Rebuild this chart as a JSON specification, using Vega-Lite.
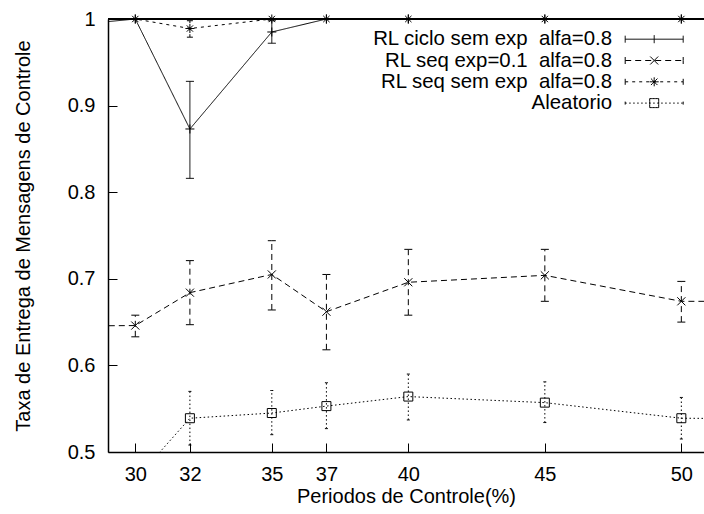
{
  "$schema": "https://vega.github.io/schema/vega-lite/v6.json",
  "width": 596,
  "height": 433,
  "autosize": "none",
  "padding": {"left": 108, "top": 19, "right": 0, "bottom": 62},
  "background": "white",
  "config": {
    "view": {"stroke": null},
    "font": "Liberation Sans",
    "axis": {
      "grid": false,
      "domainColor": "black",
      "domainWidth": 1.5,
      "tickColor": "black",
      "tickSize": -9,
      "tickWidth": 1,
      "labelFont": "Liberation Sans",
      "labelFontSize": 20,
      "labelColor": "black",
      "labelFlush": false,
      "labelOverlap": false,
      "titleFont": "Liberation Sans",
      "titleFontSize": 20,
      "titleFontWeight": "normal",
      "titleColor": "black"
    },
    "axisX": {"labelPadding": 37, "labelBaseline": "alphabetic", "titleY": 50, "titleBaseline": "alphabetic"},
    "axisY": {"labelPadding": 22, "titleX": -85, "titleBaseline": "middle"}
  },
  "data": {
    "values": [
      {"series": "RL ciclo sem exp\u00a0 alfa=0.8", "x": 25, "y": 0.985},
      {"series": "RL ciclo sem exp\u00a0 alfa=0.8", "x": 30, "y": 1.0},
      {"series": "RL ciclo sem exp\u00a0 alfa=0.8", "x": 32, "y": 0.873, "lo": 0.816, "hi": 0.928},
      {"series": "RL ciclo sem exp\u00a0 alfa=0.8", "x": 35, "y": 0.985, "lo": 0.972, "hi": 0.998},
      {"series": "RL ciclo sem exp\u00a0 alfa=0.8", "x": 37, "y": 1.0},
      {"series": "RL ciclo sem exp\u00a0 alfa=0.8", "x": 40, "y": 1.0},
      {"series": "RL ciclo sem exp\u00a0 alfa=0.8", "x": 45, "y": 1.0},
      {"series": "RL ciclo sem exp\u00a0 alfa=0.8", "x": 50, "y": 1.0},
      {"series": "RL ciclo sem exp\u00a0 alfa=0.8", "x": 55, "y": 1.0},
      {"series": "RL seq exp=0.1\u00a0 alfa=0.8", "x": 25, "y": 0.645},
      {"series": "RL seq exp=0.1\u00a0 alfa=0.8", "x": 30, "y": 0.646, "lo": 0.633, "hi": 0.658},
      {"series": "RL seq exp=0.1\u00a0 alfa=0.8", "x": 32, "y": 0.684, "lo": 0.647, "hi": 0.721},
      {"series": "RL seq exp=0.1\u00a0 alfa=0.8", "x": 35, "y": 0.705, "lo": 0.664, "hi": 0.744},
      {"series": "RL seq exp=0.1\u00a0 alfa=0.8", "x": 37, "y": 0.662, "lo": 0.618, "hi": 0.705},
      {"series": "RL seq exp=0.1\u00a0 alfa=0.8", "x": 40, "y": 0.696, "lo": 0.658, "hi": 0.734},
      {"series": "RL seq exp=0.1\u00a0 alfa=0.8", "x": 45, "y": 0.704, "lo": 0.674, "hi": 0.734},
      {"series": "RL seq exp=0.1\u00a0 alfa=0.8", "x": 50, "y": 0.674, "lo": 0.65, "hi": 0.697},
      {"series": "RL seq exp=0.1\u00a0 alfa=0.8", "x": 55, "y": 0.674},
      {"series": "RL seq sem exp\u00a0 alfa=0.8", "x": 25, "y": 1.0},
      {"series": "RL seq sem exp\u00a0 alfa=0.8", "x": 30, "y": 1.0},
      {"series": "RL seq sem exp\u00a0 alfa=0.8", "x": 32, "y": 0.989, "lo": 0.979, "hi": 0.998},
      {"series": "RL seq sem exp\u00a0 alfa=0.8", "x": 35, "y": 1.0},
      {"series": "RL seq sem exp\u00a0 alfa=0.8", "x": 37, "y": 1.0},
      {"series": "RL seq sem exp\u00a0 alfa=0.8", "x": 40, "y": 1.0},
      {"series": "RL seq sem exp\u00a0 alfa=0.8", "x": 45, "y": 1.0},
      {"series": "RL seq sem exp\u00a0 alfa=0.8", "x": 50, "y": 1.0},
      {"series": "RL seq sem exp\u00a0 alfa=0.8", "x": 55, "y": 1.0},
      {"series": "Aleatorio", "x": 30, "y": 0.468},
      {"series": "Aleatorio", "x": 32, "y": 0.539, "lo": 0.508, "hi": 0.57},
      {"series": "Aleatorio", "x": 35, "y": 0.545, "lo": 0.52, "hi": 0.571},
      {"series": "Aleatorio", "x": 37, "y": 0.553, "lo": 0.527, "hi": 0.58},
      {"series": "Aleatorio", "x": 40, "y": 0.564, "lo": 0.537, "hi": 0.59},
      {"series": "Aleatorio", "x": 45, "y": 0.557, "lo": 0.534, "hi": 0.581},
      {"series": "Aleatorio", "x": 50, "y": 0.539, "lo": 0.515, "hi": 0.563},
      {"series": "Aleatorio", "x": 55, "y": 0.538}
    ]
  },
  "layer": [
    {
      "mark": {"type": "rule", "color": "black", "strokeWidth": 1.5},
      "encoding": {
        "y": {"datum": 1, "type": "quantitative", "title": "Taxa de Entrega de Mensagens de Controle", "scale": {"domain": [0.5, 1], "nice": false, "zero": false}, "axis": {"values": [0.5, 0.6, 0.7, 0.8, 0.9, 1], "format": "~g"}}
      }
    },
    {
      "mark": {"type": "line", "clip": true, "color": "black", "strokeWidth": 1},
      "encoding": {
        "x": {"field": "x", "type": "quantitative", "title": "Periodos de Controle(%)", "scale": {"domain": [29, 50.83], "nice": false, "zero": false}, "axis": {"values": [30, 32, 35, 37, 40, 45, 50]}},
        "y": {"field": "y", "type": "quantitative", "title": "Taxa de Entrega de Mensagens de Controle", "scale": {"domain": [0.5, 1], "nice": false, "zero": false}, "axis": {"values": [0.5, 0.6, 0.7, 0.8, 0.9, 1], "format": "~g"}},
        "strokeDash": {
          "field": "series",
          "type": "nominal",
          "scale": {
            "domain": ["RL ciclo sem exp\u00a0 alfa=0.8", "RL seq exp=0.1\u00a0 alfa=0.8", "RL seq sem exp\u00a0 alfa=0.8", "Aleatorio"],
            "range": [[1, 0], [6, 4], [3, 4], [1.5, 2.5]]
          },
          "legend": {
            "orient": "none",
            "legendX": 536,
            "legendY": 10,
            "title": null,
            "padding": 0,
            "labelFont": "Liberation Sans",
            "labelFontSize": 20.4,
            "labelColor": "black",
            "labelAlign": "right",
            "labelOffset": -52.3,
            "labelLimit": 400,
            "symbolSize": 100,
            "symbolStrokeWidth": 1,
            "symbolStrokeColor": "black",
            "symbolFillColor": "transparent",
            "symbolOffset": 0,
            "rowPadding": 0.3,
            "encode": {
              "symbols": {
                "update": {
                  "shape": {"signal": "indexof(datum.value,'ciclo')>=0 ? 'M-5.8,0L5.8,0M-5.8,0L-5.8,-0.7M-5.8,0L-5.8,0.7M5.8,0L5.8,-0.7M5.8,0L5.8,0.7M0,0L0,-0.8M0,0L0,0.8' : indexof(datum.value,'exp=0.1')>=0 ? 'M-5.8,0L5.8,0M-5.8,0L-5.8,-0.7M-5.8,0L-5.8,0.7M5.8,0L5.8,-0.7M5.8,0L5.8,0.7M0,0L0.8,0.8M0,0L-0.8,-0.8M0,0L0.8,-0.8M0,0L-0.8,0.8' : indexof(datum.value,'sem exp')>=0 ? 'M-5.8,0L5.8,0M-5.8,0L-5.8,-0.7M-5.8,0L-5.8,0.7M5.8,0L5.8,-0.7M5.8,0L5.8,0.7M0,0L0.45,0M0.45,0L0.9,0M0,0L-0.45,0M-0.45,0L-0.9,0M0,0L0,0.45M0,0.45L0,0.9M0,0L0,-0.45M0,-0.45L0,-0.9M0,0L0.32,0.32M0.32,0.32L0.65,0.65M0,0L-0.32,-0.32M-0.32,-0.32L-0.65,-0.65M0,0L0.32,-0.32M0.32,-0.32L0.65,-0.65M0,0L-0.32,0.32M-0.32,0.32L-0.65,0.65' : 'M-5.8,0L5.8,0M-5.8,0L-5.8,-0.7M-5.8,0L-5.8,0.7M5.8,0L5.8,-0.7M5.8,0L5.8,0.7M-0.9,-0.9L-0.6,-0.9M-0.6,-0.9L-0.3,-0.9M-0.3,-0.9L0,-0.9M0,-0.9L0.3,-0.9M0.3,-0.9L0.6,-0.9M0.6,-0.9L0.9,-0.9M0.9,-0.9L0.9,-0.6M0.9,-0.6L0.9,-0.3M0.9,-0.3L0.9,0M0.9,0L0.9,0.3M0.9,0.3L0.9,0.6M0.9,0.6L0.9,0.9M0.9,0.9L0.6,0.9M0.6,0.9L0.3,0.9M0.3,0.9L0,0.9M0,0.9L-0.3,0.9M-0.3,0.9L-0.6,0.9M-0.6,0.9L-0.9,0.9M-0.9,0.9L-0.9,0.6M-0.9,0.6L-0.9,0.3M-0.9,0.3L-0.9,0M-0.9,0L-0.9,-0.3M-0.9,-0.3L-0.9,-0.6M-0.9,-0.6L-0.9,-0.9'"}
                }
              }
            }
          }
        }
      }
    },
    {
      "transform": [{"filter": "isValid(datum.lo) && datum.x >= 29 && datum.x <= 51"}],
      "mark": {"type": "rule", "color": "black", "strokeWidth": 1},
      "encoding": {
        "x": {"field": "x", "type": "quantitative", "title": "Periodos de Controle(%)", "axis": {"values": [30, 32, 35, 37, 40, 45, 50]}},
        "y": {"field": "lo", "type": "quantitative", "title": "Taxa de Entrega de Mensagens de Controle", "axis": {"values": [0.5, 0.6, 0.7, 0.8, 0.9, 1], "format": "~g"}},
        "y2": {"field": "hi"},
        "strokeDash": {"field": "series", "type": "nominal", "legend": null}
      }
    },
    {
      "transform": [{"filter": "isValid(datum.lo) && datum.x >= 29 && datum.x <= 51"}],
      "mark": {"type": "point", "shape": "M0,0L-1,0M0,0L1,0", "size": 64, "filled": false, "color": "black", "strokeWidth": 1, "opacity": 1},
      "encoding": {
        "x": {"field": "x", "type": "quantitative", "title": "Periodos de Controle(%)", "axis": {"values": [30, 32, 35, 37, 40, 45, 50]}},
        "y": {"field": "lo", "type": "quantitative", "title": "Taxa de Entrega de Mensagens de Controle", "axis": {"values": [0.5, 0.6, 0.7, 0.8, 0.9, 1], "format": "~g"}},
        "strokeDash": {"field": "series", "type": "nominal", "legend": null}
      }
    },
    {
      "transform": [{"filter": "isValid(datum.hi) && datum.x >= 29 && datum.x <= 51"}],
      "mark": {"type": "point", "shape": "M0,0L-1,0M0,0L1,0", "size": 64, "filled": false, "color": "black", "strokeWidth": 1, "opacity": 1},
      "encoding": {
        "x": {"field": "x", "type": "quantitative", "title": "Periodos de Controle(%)", "axis": {"values": [30, 32, 35, 37, 40, 45, 50]}},
        "y": {"field": "hi", "type": "quantitative", "title": "Taxa de Entrega de Mensagens de Controle", "axis": {"values": [0.5, 0.6, 0.7, 0.8, 0.9, 1], "format": "~g"}},
        "strokeDash": {"field": "series", "type": "nominal", "legend": null}
      }
    },
    {
      "transform": [{"filter": "datum.x >= 29 && datum.x <= 51 && datum.y >= 0.5"}],
      "mark": {"type": "point", "size": 81, "filled": false, "color": "black", "strokeWidth": 1, "opacity": 1},
      "encoding": {
        "x": {"field": "x", "type": "quantitative", "title": "Periodos de Controle(%)", "axis": {"values": [30, 32, 35, 37, 40, 45, 50]}},
        "y": {"field": "y", "type": "quantitative", "title": "Taxa de Entrega de Mensagens de Controle", "axis": {"values": [0.5, 0.6, 0.7, 0.8, 0.9, 1], "format": "~g"}},
        "shape": {
          "field": "series",
          "type": "nominal",
          "scale": {
            "range": ["M-1,-1L1,-1L1,1L-1,1Z", "M-1,0L1,0M0,-1L0,1", "M-0.9,-0.9L0.9,0.9M-0.9,0.9L0.9,-0.9", "M-1,0L1,0M0,-1L0,1M-0.7,-0.7L0.7,0.7M-0.7,0.7L0.7,-0.7"]
          },
          "legend": null
        }
      }
    }
  ]
}
